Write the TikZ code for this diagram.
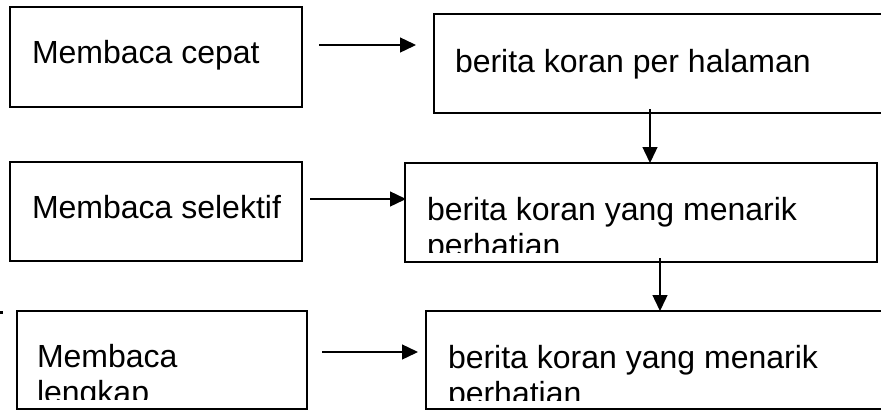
\documentclass[tikz,border=0pt]{standalone}
\usepackage{fontspec}
\setmainfont{Liberation Sans}
\usetikzlibrary{arrows.meta,calc}
\begin{document}
\begin{tikzpicture}[x=1pt,y=-1pt,
  frame/.style={draw, rectangle, line width=1.2pt, inner sep=0pt, outer sep=0pt, anchor=north west},
  words/.style={anchor=base west, inner sep=0pt, outer sep=0pt, font=\fontsize{32}{36.8}\selectfont},
  arr/.style={line width=1.4pt, -{Triangle[length=16pt,width=15pt]}}]
\clip (0,0) rectangle (881,410);

% left column: reading modes
\node[frame, minimum width=292pt, minimum height=100pt] (A) at (10,7) {};
\node[frame, minimum width=292pt, minimum height=99pt]  (D) at (10,162) {};
\node[frame, minimum width=290pt, minimum height=98pt]  (F) at (17,311) {};

% right column: what gets read
\node[frame, minimum width=470pt, minimum height=99pt]  (B) at (434,14) {};
\node[frame, minimum width=472pt, minimum height=99pt]  (C) at (405,163) {};
\node[frame, minimum width=470pt, minimum height=98pt]  (E) at (426,311) {};

% labels (text is cut off near the bottom of each box)
\begin{scope}
  \clip (A.north west) rectangle ($(A.south east)+(0,-10)$);
  \node[words] (ta) at (32,63) {Membaca cepat};
\end{scope}
\begin{scope}
  \clip (D.north west) rectangle ($(D.south east)+(0,-10)$);
  \node[words] (td) at (32,218) {Membaca selektif};
\end{scope}
\begin{scope}
  \clip (F.north west) rectangle ($(F.south east)+(0,-10)$);
  \node[words] (tf1) at (37,367) {Membaca};
  \node[words] (tf2) at (37,403.8) {lengkap};
\end{scope}
\begin{scope}
  \clip (B.north west) rectangle ($(B.south east)+(0,-10)$);
  \node[words] (tb) at (455,72) {berita koran per halaman};
\end{scope}
\begin{scope}
  \clip (C.north west) rectangle ($(C.south east)+(0,-10)$);
  \node[words] (tc1) at (427,220) {berita koran yang menarik};
  \node[words] (tc2) at (427,256.8) {perhatian};
\end{scope}
\begin{scope}
  \clip (E.north west) rectangle ($(E.south east)+(0,-9)$);
  \node[words] (te1) at (448,368) {berita koran yang menarik};
  \node[words] (te2) at (448,404.8) {perhatian};
\end{scope}

% horizontal connectors
\draw[arr] ($(A.north east)+(17,38)$) -- ($(B.north west)+(-18,31)$);
\draw[arr] ($(D.north east)+(8,37)$) -- ($(C.north west)+(1,36)$);
\draw[arr] ($(F.north east)+(15,41)$) -- ($(E.north west)+(-8,41)$);

% vertical connectors
\draw[arr] ($(B.south west)+(216,-4)$) -- ($(C.north west)+(245,0)$);
\draw[arr] ($(C.south west)+(255,-4)$) -- ($(E.north west)+(234,0)$);

% stray tick at the left margin
\fill (0,311) rectangle (2.5,313.5);
\end{tikzpicture}
\end{document}
